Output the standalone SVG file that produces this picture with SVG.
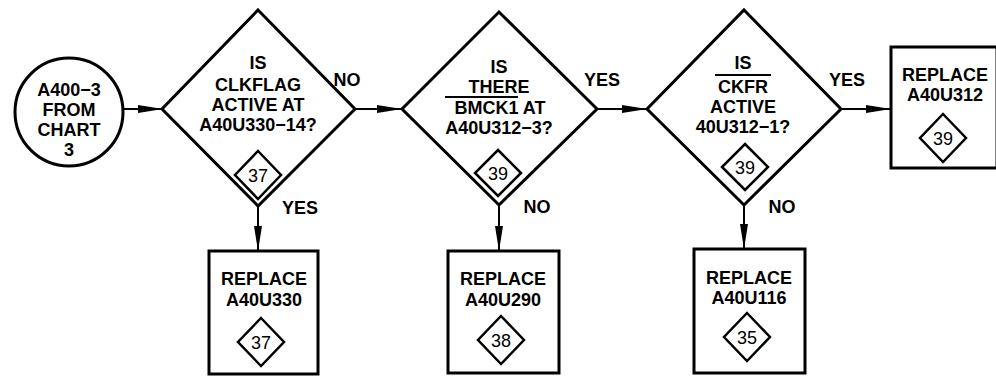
<svg xmlns="http://www.w3.org/2000/svg" width="996" height="377" viewBox="0 0 996 377">
<defs>
<style>
.shape{fill:#fff;stroke:#000;stroke-width:3}
.small{fill:#fff;stroke:#000;stroke-width:2.5}
.conn{fill:none;stroke:#000;stroke-width:2}
.bar{stroke:#000;stroke-width:2}
text{font-family:"Liberation Sans",Arial,sans-serif;font-weight:bold;font-size:18px;fill:#000;text-anchor:middle}
.num{font-size:18px;font-weight:normal}
</style>
<marker id="arr" viewBox="0 0 25 9" refX="25" refY="4.5" markerWidth="25" markerHeight="9" markerUnits="userSpaceOnUse" orient="auto">
<path d="M0,0.5 L25,4.5 L0,8.5 z" fill="#000"/>
</marker>
</defs>
<rect width="996" height="377" fill="#fff"/>
<g id="connectors">
<line class="conn" x1="123" y1="109" x2="163" y2="109" marker-end="url(#arr)"/>
<line class="conn" x1="355" y1="109" x2="402" y2="109" marker-end="url(#arr)"/>
<line class="conn" x1="597" y1="109" x2="647" y2="109" marker-end="url(#arr)"/>
<line class="conn" x1="841" y1="109" x2="891" y2="109" marker-end="url(#arr)"/>
<line class="conn" x1="258" y1="206" x2="258" y2="251" marker-end="url(#arr)"/>
<line class="conn" x1="499" y1="205" x2="499" y2="251" marker-end="url(#arr)"/>
<line class="conn" x1="744" y1="205" x2="744" y2="249" marker-end="url(#arr)"/>
<text x="347" y="86">NO</text>
<text x="300" y="214">YES</text>
<text x="602" y="86">YES</text>
<text x="537" y="213">NO</text>
<text x="847" y="86">YES</text>
<text x="782" y="213">NO</text>
</g>
<g id="start">
<circle class="shape" cx="69" cy="112" r="54"/>
<text x="69" y="96">A400−3</text>
<text x="69" y="116">FROM</text>
<text x="69" y="136">CHART</text>
<text x="69" y="156">3</text>
</g>
<g id="decision1">
<polygon class="shape" points="258,10 355,109 258,206 162,109"/>
<text x="258" y="69">IS</text>
<text x="258" y="91">CLKFLAG</text>
<text x="258" y="111">ACTIVE AT</text>
<text x="258" y="131">A40U330−14?</text>
<polygon class="small" points="258,151 281,175 258,199 235,175"/>
<text class="num" x="258" y="181.5">37</text>
</g>
<g id="decision2">
<polygon class="shape" points="499,12 597,109 499,205 402,109"/>
<text x="499" y="73">IS</text>
<text x="499" y="93">THERE</text>
<line class="bar" x1="445" y1="97" x2="518" y2="97"/>
<text x="500" y="114">BMCK1 AT</text>
<text x="499" y="134">A40U312−3?</text>
<polygon class="small" points="498,150 521,173 498,196 475,173"/>
<text class="num" x="498" y="179.5">39</text>
</g>
<g id="decision3">
<polygon class="shape" points="744,10 841,109 744,205 647,109"/>
<text x="743" y="69">IS</text>
<line class="bar" x1="715" y1="75" x2="771" y2="75"/>
<text x="743" y="93">CKFR</text>
<text x="743" y="113">ACTIVE</text>
<text x="743" y="133">40U312−1?</text>
<polygon class="small" points="745,144 768,167 745,190 722,167"/>
<text class="num" x="745" y="173.5">39</text>
</g>
<g id="replace330">
<rect class="shape" x="209" y="251" width="109" height="123"/>
<text x="264" y="285">REPLACE</text>
<text x="264" y="306">A40U330</text>
<polygon class="small" points="261,318 284,342 261,366 238,342"/>
<text class="num" x="261" y="348.5">37</text>
</g>
<g id="replace290">
<rect class="shape" x="448" y="251" width="111" height="122"/>
<text x="503" y="285">REPLACE</text>
<text x="503" y="306">A40U290</text>
<polygon class="small" points="501,316 524,340 501,364 478,340"/>
<text class="num" x="501" y="346.5">38</text>
</g>
<g id="replace116">
<rect class="shape" x="694" y="249" width="111" height="124"/>
<text x="749" y="284">REPLACE</text>
<text x="749" y="304">A40U116</text>
<polygon class="small" points="747,313 770,337 747,361 724,337"/>
<text class="num" x="747" y="343.5">35</text>
</g>
<g id="replace312">
<rect class="shape" x="891" y="47" width="106" height="121"/>
<text x="945" y="81">REPLACE</text>
<text x="945" y="101">A40U312</text>
<polygon class="small" points="943,114 966,138 943,162 920,138"/>
<text class="num" x="943" y="144.5">39</text>
</g>
</svg>
